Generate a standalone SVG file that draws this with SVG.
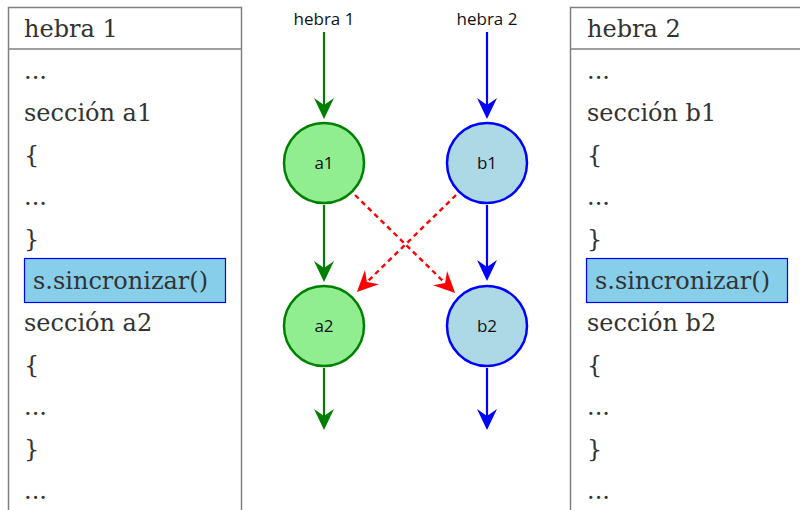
<svg xmlns="http://www.w3.org/2000/svg" width="800" height="510" viewBox="0 0 800 510">
<defs>
<style>
.panel{fill:#ffffff;stroke:#808080;stroke-width:1.5}
.sep{stroke:#808080;stroke-width:1.5}
.code{font-family:"DejaVu Serif","Liberation Serif",serif;font-size:24px;fill:#333333}
.hl{fill:#87CEEB;stroke:#0000FF;stroke-width:1.2}
.lbl{font-family:"Open Sans","Noto Sans","DejaVu Sans",sans-serif;font-size:17px;fill:#111111;text-anchor:middle}
.g{stroke:#008000;stroke-width:2.2;fill:none}
.b{stroke:#0000FF;stroke-width:2.2;fill:none}
.r{stroke:#FF0000;stroke-width:2.4;fill:none;stroke-dasharray:5,4}
.gn{fill:#90EE90;stroke:#008000;stroke-width:2.5}
.bn{fill:#ADD8E6;stroke:#0000FF;stroke-width:2.5}
</style>
<marker id="ag" markerUnits="userSpaceOnUse" viewBox="-8 -11 23 22" refX="0" refY="0" markerWidth="23" markerHeight="22" orient="auto" overflow="visible">
<path d="M14,0 L-7,-10 L0,0 L-7,10 z" fill="#008000"/>
</marker>
<marker id="ab" markerUnits="userSpaceOnUse" viewBox="-8 -11 23 22" refX="0" refY="0" markerWidth="23" markerHeight="22" orient="auto" overflow="visible">
<path d="M14,0 L-7,-10 L0,0 L-7,10 z" fill="#0000FF"/>
</marker>
<marker id="ar" markerUnits="userSpaceOnUse" viewBox="-8 -11 23 22" refX="0" refY="0" markerWidth="23" markerHeight="22" orient="auto" overflow="visible">
<path d="M14,0 L-7,-10 L0,0 L-7,10 z" fill="#FF0000"/>
</marker>
</defs>
<rect width="800" height="510" fill="#ffffff"/>

<g id="panel-hebra1">
<rect class="panel" x="8.5" y="7.5" width="233" height="530"/>
<line class="sep" x1="8.5" y1="49" x2="241.5" y2="49"/>
<text class="code" x="24" y="37">hebra 1</text>
<text class="code" x="24" y="79">...</text>
<text class="code" x="24" y="121">sección a1</text>
<text class="code" x="24" y="163">{</text>
<text class="code" x="24" y="205">...</text>
<text class="code" x="24" y="247">}</text>
<rect class="hl" x="24.5" y="258.5" width="201" height="44"/>
<text class="code" x="33" y="289">s.sincronizar()</text>
<text class="code" x="24" y="331">sección a2</text>
<text class="code" x="24" y="373">{</text>
<text class="code" x="24" y="415">...</text>
<text class="code" x="24" y="457">}</text>
<text class="code" x="24" y="499">...</text>
</g>

<g id="panel-hebra2">
<rect class="panel" x="570.5" y="7.5" width="240" height="530"/>
<line class="sep" x1="570.5" y1="49" x2="810" y2="49"/>
<text class="code" x="587" y="37">hebra 2</text>
<text class="code" x="587" y="79">...</text>
<text class="code" x="587" y="121">sección b1</text>
<text class="code" x="587" y="163">{</text>
<text class="code" x="587" y="205">...</text>
<text class="code" x="587" y="247">}</text>
<rect class="hl" x="586.5" y="258.5" width="201" height="44"/>
<text class="code" x="595" y="289">s.sincronizar()</text>
<text class="code" x="587" y="331">sección b2</text>
<text class="code" x="587" y="373">{</text>
<text class="code" x="587" y="415">...</text>
<text class="code" x="587" y="457">}</text>
<text class="code" x="587" y="499">...</text>
</g>

<g id="label-hebra1"><text class="lbl" x="324" y="25">hebra 1</text></g>
<g id="label-hebra2"><text class="lbl" x="487" y="25">hebra 2</text></g>

<g id="connectors">
<line class="g" x1="324" y1="32" x2="324" y2="105" marker-end="url(#ag)"/>
<line class="g" x1="324" y1="205" x2="324" y2="268" marker-end="url(#ag)"/>
<line class="g" x1="324" y1="368" x2="324" y2="416" marker-end="url(#ag)"/>
<line class="b" x1="487" y1="32" x2="487" y2="105" marker-end="url(#ab)"/>
<line class="b" x1="487" y1="205" x2="487" y2="267" marker-end="url(#ab)"/>
<line class="b" x1="487" y1="368" x2="487" y2="416" marker-end="url(#ab)"/>
<line class="r" x1="355" y1="195" x2="445.1" y2="283.1" marker-end="url(#ar)"/>
<line class="r" x1="456" y1="195" x2="366.9" y2="282.1" marker-end="url(#ar)"/>
</g>

<g id="node-a1"><circle class="gn" cx="324" cy="163" r="40"/><text class="lbl" x="324" y="169">a1</text></g>
<g id="node-b1"><circle class="bn" cx="487" cy="163" r="40"/><text class="lbl" x="487" y="169">b1</text></g>
<g id="node-a2"><circle class="gn" cx="324" cy="326" r="40"/><text class="lbl" x="324" y="332">a2</text></g>
<g id="node-b2"><circle class="bn" cx="487" cy="326" r="40"/><text class="lbl" x="487" y="332">b2</text></g>
</svg>
